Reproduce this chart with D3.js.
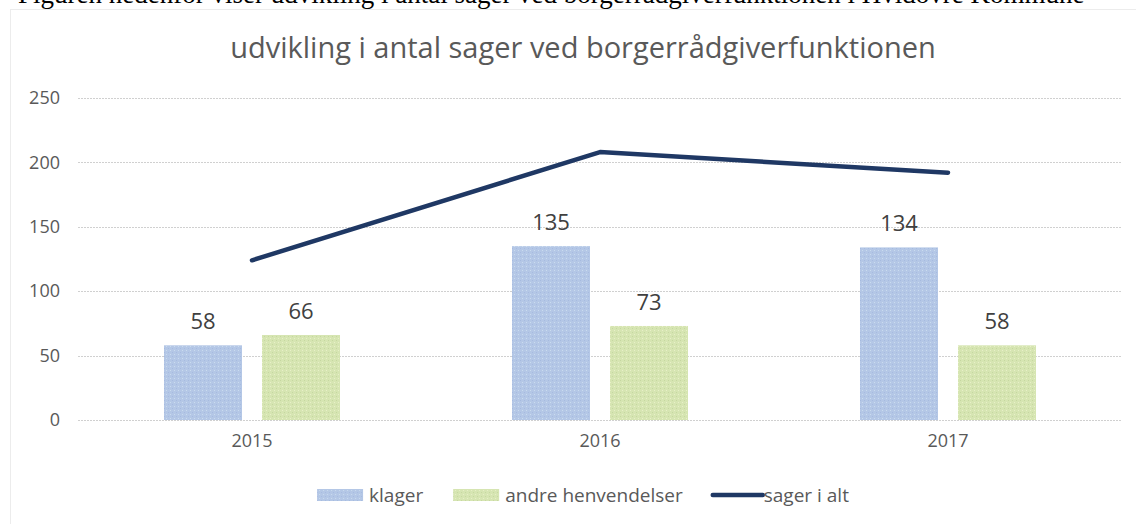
<!DOCTYPE html>
<html>
<head>
<meta charset="utf-8">
<script src="https://cdnjs.cloudflare.com/ajax/libs/d3/7.8.5/d3.min.js"></script>
<style>
  html, body { margin: 0; padding: 0; background: #fff; }
  svg { display: block; }
</style>
</head>
<body>
<svg id="chart" width="1136" height="524"></svg>
<script>
const years = ["2015", "2016", "2017"];
const klager = [58, 135, 134];
const andre = [66, 73, 58];
const sagerIAlt = [124, 208, 192];
const yTicks = [0, 50, 100, 150, 200, 250];
const seriesNames = ["klager", "andre henvendelser", "sager i alt"];
const titleText = "udvikling i antal sager ved borgerrådgiverfunktionen";
const captionText = "Figuren nedenfor viser udvikling i antal sager ved borgerrådgiverfunktionen i Hvidovre Kommune";

const svg = d3.select("#chart");
const font = "'Open Sans', 'Noto Sans', sans-serif";

// defs: dotted fill patterns
const defs = svg.append("defs");
const pb = defs.append("pattern").attr("id", "patBlue").attr("patternUnits", "userSpaceOnUse")
  .attr("width", 4).attr("height", 4);
pb.append("rect").attr("width", 4).attr("height", 4).attr("fill", "#b4c7e6");
pb.append("rect").attr("x", 0).attr("y", 0).attr("width", 1).attr("height", 1).attr("fill", "#a6bbe0");
pb.append("rect").attr("x", 2).attr("y", 2).attr("width", 1).attr("height", 1).attr("fill", "#cadcef");
const pg = defs.append("pattern").attr("id", "patGreen").attr("patternUnits", "userSpaceOnUse")
  .attr("width", 4).attr("height", 4);
pg.append("rect").attr("width", 4).attr("height", 4).attr("fill", "#d6e5b2");
pg.append("rect").attr("x", 0).attr("y", 0).attr("width", 1).attr("height", 1).attr("fill", "#c6d7a0");
pg.append("rect").attr("x", 2).attr("y", 2).attr("width", 1).attr("height", 1).attr("fill", "#e8f0c8");

// caption (cut off at top, as in the reference)
svg.append("text")
  .attr("x", 18).attr("y", 3)
  .attr("font-family", "'Liberation Serif', 'DejaVu Serif', serif")
  .attr("font-size", 27)
  .attr("fill", "#000")
  .text(captionText);

// chart frame
svg.append("rect")
  .attr("x", 10.5).attr("y", 9.5).attr("width", 1200).attr("height", 600)
  .attr("fill", "none").attr("stroke", "#d9d9d9").attr("stroke-width", 1)
  .attr("stroke-dasharray", "1,1");

// scales
const plotLeft = 78, plotRight = 1122;
const x0 = d3.scaleBand().domain(years).range([plotLeft, plotRight]).padding(0);
const x1 = d3.scaleBand().domain(["klager", "andre"])
  .range([x0.bandwidth() / 2 - 88, x0.bandwidth() / 2 + 88])
  .paddingInner(0.204).paddingOuter(0);
const y = d3.scaleLinear().domain([0, 250]).range([420, 98]);

// gridlines
svg.append("g").selectAll("line").data(yTicks).join("line")
  .attr("x1", plotLeft).attr("x2", plotRight)
  .attr("y1", d => Math.round(y(d)) + 0.5).attr("y2", d => Math.round(y(d)) + 0.5)
  .attr("stroke", "#d0d0d0").attr("stroke-width", 1.2)
  .attr("stroke-dasharray", "2,1");

// y axis
const yAxis = d3.axisLeft(y).tickValues(yTicks).tickSize(0).tickPadding(0);
const yg = svg.append("g").attr("transform", `translate(60,0)`).call(yAxis);
yg.select(".domain").remove();
yg.selectAll("text").attr("font-family", font).attr("font-size", 18).attr("fill", "#595959");

// x axis
const xAxis = d3.axisBottom(x0).tickSize(0).tickPadding(0);
const xg = svg.append("g").attr("transform", `translate(0,434)`).call(xAxis);
xg.select(".domain").remove();
xg.selectAll("text").attr("font-family", font).attr("font-size", 18).attr("fill", "#595959")
  .attr("dy", "0.71em");

// bars
const barData = [];
years.forEach((yr, i) => {
  barData.push({ year: yr, key: "klager", value: klager[i] });
  barData.push({ year: yr, key: "andre", value: andre[i] });
});
const fills = { klager: "url(#patBlue)", andre: "url(#patGreen)" };
svg.append("g").selectAll("rect").data(barData).join("rect")
  .attr("x", d => x0(d.year) + x1(d.key))
  .attr("width", x1.bandwidth())
  .attr("y", d => y(d.value))
  .attr("height", d => y(0) - y(d.value))
  .attr("fill", d => fills[d.key]);

// data labels
svg.append("g").selectAll("text").data(barData).join("text")
  .attr("x", d => x0(d.year) + x1(d.key) + x1.bandwidth() / 2)
  .attr("y", d => y(d.value) - 16)
  .attr("text-anchor", "middle")
  .attr("font-family", font).attr("font-size", 22).attr("fill", "#404040")
  .text(d => d.value);

// total line
const line = d3.line()
  .x((d, i) => x0(years[i]) + x0.bandwidth() / 2)
  .y(d => y(d));
svg.append("path").datum(sagerIAlt)
  .attr("d", line)
  .attr("fill", "none").attr("stroke", "#1f3864").attr("stroke-width", 4.5)
  .attr("stroke-linecap", "round").attr("stroke-linejoin", "round");

// title
svg.append("text")
  .attr("x", 583).attr("y", 58)
  .attr("text-anchor", "middle")
  .attr("font-family", font).attr("font-size", 29).attr("fill", "#595959")
  .text(titleText);

// legend
const lg = svg.append("g");
const legendY = 495;
let cx = 0;
seriesNames.forEach((name, i) => {
  const g = lg.append("g");
  if (i < 2) {
    g.append("rect").attr("x", cx).attr("y", legendY - 6).attr("width", 46).attr("height", 12)
      .attr("fill", i === 0 ? "url(#patBlue)" : "url(#patGreen)");
  } else {
    g.append("line").attr("x1", cx).attr("x2", cx + 50).attr("y1", legendY).attr("y2", legendY)
      .attr("stroke", "#1f3864").attr("stroke-width", 4.5).attr("stroke-linecap", "round");
  }
  const tx = cx + (i < 2 ? 52 : 51);
  const t = g.append("text").attr("x", tx).attr("y", legendY).attr("dy", "0.35em")
    .attr("font-family", font).attr("font-size", 19).attr("fill", "#595959").text(name);
  const w = t.node().getComputedTextLength();
  cx = tx + w + 30;
});
const totalW = cx - 30;
lg.attr("transform", `translate(${583 - totalW / 2},0)`);
</script>
</body>
</html>
